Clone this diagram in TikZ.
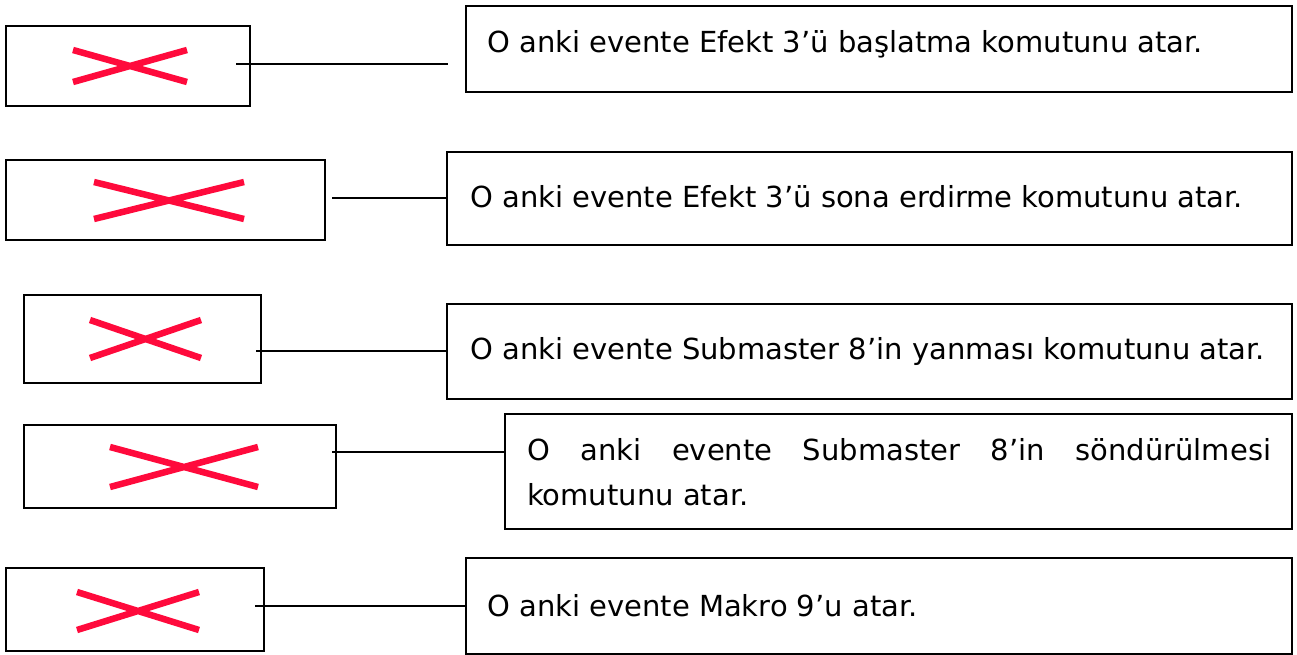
\documentclass[tikz,border=0pt]{standalone}
\usepackage{fontspec}
\setmainfont{DejaVu Sans}
\definecolor{xred}{HTML}{FF0A3C}
\begin{document}
\begin{tikzpicture}[x=1pt,y=-1pt,
  lbox/.style={draw=black,line width=1.6pt},
  rbox/.style={draw=black,line width=1.4pt},
  conn/.style={draw=black,line width=1.3pt},
  cross/.style={draw=xred,line width=6.5pt},
  txt/.style={font=\fontsize{29}{34}\selectfont,inner sep=0pt,anchor=west}]
\useasboundingbox (0,0) rectangle (1297,655);
% row 1
\draw[lbox] (6,26) rectangle (250,106);
\draw[cross] (73,50) -- (187,82) (73,82) -- (187,50);
\draw[rbox] (466,6) rectangle (1292,92);
\node[txt] (t1) at (487,44) {O anki evente Efekt 3’ü başlatma komutunu atar.};
\coordinate (a1) at (236,64); \coordinate (b1) at (466,64);
\draw[conn] (a1) -- ([xshift=-18pt]b1);
% row 2
\draw[lbox] (6,160) rectangle (325,240);
\draw[cross] (94,182) -- (244,219) (94,219) -- (244,182);
\draw[rbox] (447,152) rectangle (1292,245);
\node[txt] (t2) at (470,197) {O anki evente Efekt 3’ü sona erdirme komutunu atar.};
\coordinate (a2) at (332,198); \coordinate (b2) at (447,198);
\draw[conn] (a2) -- (b2);
% row 3
\draw[lbox] (24,295) rectangle (261,383);
\draw[cross] (90,320) -- (201,358) (90,358) -- (201,320);
\draw[rbox] (447,304) rectangle (1292,399);
\node[txt] (t3) at (470,351) {O anki evente Submaster 8’in yanması komutunu atar.};
\coordinate (a3) at (256,351); \coordinate (b3) at (447,351);
\draw[conn] (a3) -- (b3);
% row 4
\draw[lbox] (24,425) rectangle (336,508);
\draw[cross] (110,447) -- (258,487) (110,487) -- (258,447);
\draw[rbox] (505,414) rectangle (1292,529);
\node[txt] (t4a) at (527,450) {\hbox to 744pt{O\hfill anki\hfill evente\hfill Submaster\hfill 8’in\hfill söndürülmesi}};
\node[txt] (t4b) at (527,495) {komutunu atar.};
\coordinate (a4) at (332,452); \coordinate (b4) at (505,452);
\draw[conn] (a4) -- (b4);
% row 5
\draw[lbox] (6,568) rectangle (264,651);
\draw[cross] (77,592) -- (199,630) (77,630) -- (199,592);
\draw[rbox] (466,558) rectangle (1292,654);
\node[txt] (t5) at (487,606) {O anki evente Makro 9’u atar.};
\coordinate (a5) at (255,606); \coordinate (b5) at (466,606);
\draw[conn] (a5) -- (b5);
\end{tikzpicture}
\end{document}
